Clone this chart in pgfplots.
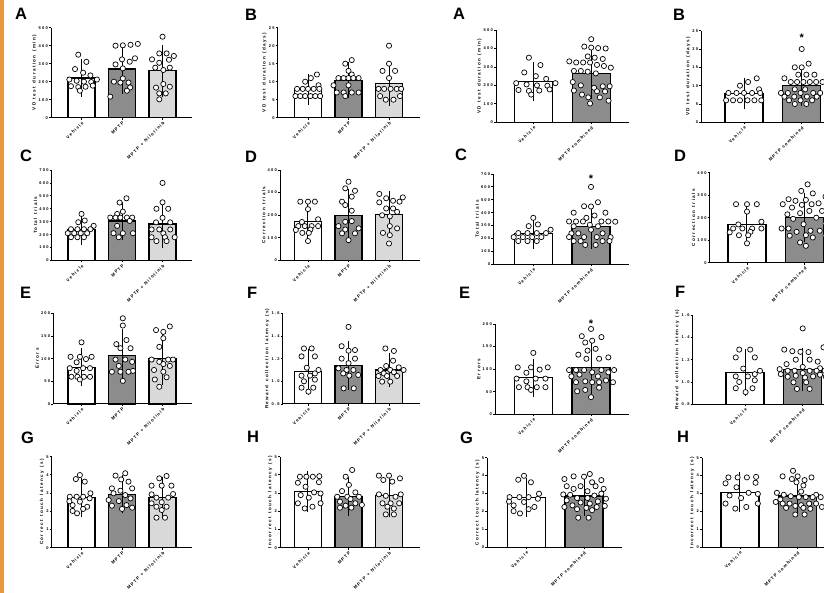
\documentclass[border=0pt]{standalone}
\usepackage{fontspec}
\setmainfont{Liberation Sans}
\newfontfamily\lsfam[LetterSpace=30, WordSpace=1.3]{Liberation Sans}
\newfontfamily\xsfam[LetterSpace=26, WordSpace=1.2]{Liberation Sans}
\usepackage{pgfplots}
\pgfplotsset{compat=1.18}
\definecolor{dg}{RGB}{140,140,140}
\definecolor{lg}{RGB}{217,217,217}
\definecolor{orng}{RGB}{233,152,62}
\newcommand{\tkf}{\lsfam\bfseries\fontsize{4}{4.8}\selectfont}
\newcommand{\lbf}{\lsfam\bfseries\fontsize{4.6}{5.4}\selectfont}
\newcommand{\xbf}{\xsfam\bfseries\fontsize{4.4}{5.2}\selectfont}
\pgfplotsset{
 gp/.style={scale only axis, anchor=south west, axis x line*=bottom, axis y line*=left,
   axis line style={line width=1pt,-}, tick align=outside, major tick length=2pt,
   tick style={line width=0.8pt, black}, xtick={0,1,2}, tick label style={font=\tkf},
   xticklabel style={font=\xbf, rotate=45, anchor=north east, inner sep=1pt},
   yticklabel style={inner sep=1pt}, ylabel style={font=\lbf, inner sep=1pt},
   clip=false, ymin=0},
 lft/.style={gp, xticklabels={Vehicle,MPTP,MPTP + Nilotinib}},
 rgt/.style={gp, xmax=1.66, xtick={0,1}, xticklabels={Vehicle,MPTP combined}},
}
\newcommand{\br}[4]{\addplot[ybar, bar width=#4, bar shift=0pt, fill=#1, draw=black, line width=1.2pt] coordinates {(#2,#3)};}
\newcommand{\eb}[1]{\addplot[forget plot, draw=none, mark=none, error bars/.cd, y dir=both, y explicit, error bar style={draw=black, solid, line width=1pt}, error mark=-, error mark options={draw=black, solid, mark size=8pt, line width=1pt}] coordinates {#1};}
\newcommand{\pts}[1]{\addplot[only marks, mark=*, mark size=2.6pt, mark options={fill=white, draw=black, line width=0.7pt}] coordinates {#1};}
\newcommand{\lbars}[3]{\br{white}{0}{#1}{27pt}\br{dg}{1}{#2}{27pt}\br{lg}{2}{#3}{27pt}}
\newcommand{\rbars}[2]{\br{white}{0}{#1}{38pt}\br{dg}{1}{#2}{38pt}}
\newcommand{\plet}[3]{\node[anchor=base west, inner sep=0pt, font=\bfseries\fontsize{16.5}{16.5}\selectfont] at (#1pt,#2pt) {#3};}
\begin{document}
\begin{tikzpicture}[x=1pt,y=1pt]
\useasboundingbox (0,0) rectangle (824,593);
\clip (0,0) rectangle (824,593);
\fill[orng] (0,0) rectangle (4,593);
% ---------------- Row 1
\begin{axis}[lft, at={(51pt,475.3pt)}, width=141.1pt, height=90pt, xmin=-0.753, xmax=2.73, ymax=500, ytick={0,100,...,500}, yticklabels={0,100,200,300,400,500}, ylabel={VD test duration (min)}]
\lbars{220}{270}{260}
\eb{(0,220) +- (0,60) (1,270) +- (0,95) (2,260) +- (0,100)}
\pts{(-0.08,350)(0.12,310)(-0.16,270)(0.04,250)(0.22,235)(-0.30,212)(-0.12,205)(0.06,200)(0.24,198)(0.38,212)(-0.26,175)(-0.08,170)(0.10,172)(0.28,178)(-0.04,150)}
\pts{(0.84,400)(1.02,402)(1.21,405)(1.39,410)(1.32,330)(1.0,324)(1.19,311)(0.84,296)(1.02,274)(1.02,218)(0.8,200)(0.96,195)(1.16,195)(1.2,168)(1.12,150)(0.71,117)}
\pts{(2,450)(1.92,357)(2.1,357)(2.28,343)(1.74,324)(2.16,322)(1.92,305)(1.82,278)(2.18,278)(2.02,265)(2.02,187)(1.84,167)(2.18,172)(2.08,135)(1.92,135)(1.92,102)}
\end{axis}
\begin{axis}[lft, at={(277.7pt,475.3pt)}, width=142.1pt, height=90pt, xmin=-0.748, xmax=2.76, ymax=25, ytick={0,5,...,25}, yticklabels={0,5,10,15,20,25}, ylabel={VD test duration (days)}]
\lbars{7.9}{10.4}{9.5}
\eb{(0,7.9) +- (0,2.1) (1,10.4) +- (0,2.8) (2,9.5) +- (0,4.1)}
\pts{(0.22,12)(0.07,11)(-0.07,10)(0.26,9)(-0.27,8)(-0.13,8)(0,8)(0.14,8)(0.28,8)(-0.31,6)(-0.19,6)(-0.07,6)(0.06,6)(0.18,6)(0.3,6)}
\pts{(1.08,16)(0.92,15)(1,13)(1.08,12)(0.75,11)(0.88,11)(1,11)(1.12,11)(1.25,11)(0.63,9)(1,9)(0.71,7)(0.88,7)(1.08,7)(1.25,7)(0.92,6)}
\pts{(2,20)(2,15)(1.84,13)(2.15,13)(2,11)(1.74,8)(1.88,8)(2.04,8)(2.19,8)(2.3,8)(1.78,6)(2.27,6)(1.92,5)(2.11,5)}
\end{axis}
\begin{axis}[rgt, at={(496pt,470.7pt)}, width=133.3pt, height=92.3pt, xmin=-0.65, ymax=500, ytick={0,100,...,500}, yticklabels={0,100,200,300,400,500}, ylabel={VD test duration (min)}]
\rbars{220}{265}
\eb{(0,220) +- (0,62) (1,265) +- (0,95)}
\pts{(-0.08,350)(0.12,310)(-0.16,270)(0.04,250)(0.22,235)(-0.30,212)(-0.12,205)(0.06,200)(0.24,198)(0.38,212)(-0.26,175)(-0.08,170)(0.10,172)(0.28,178)(-0.04,150)}
\pts{(1,450)(0.88,410)(1.0,405)(1.12,402)(1.25,400)(0.94,357)(1.06,350)(1.2,343)(0.62,330)(0.74,324)(0.86,324)(0.98,324)(1.1,311)(1.22,305)(1.34,296)(0.7,278)(0.82,278)(0.94,274)(1.08,265)(0.68,218)(0.82,200)(1.2,195)(1.32,195)(1.05,187)(0.7,172)(1.1,168)(1.24,167)(0.84,150)(0.95,135)(1.15,135)(1.3,117)(0.98,102)}
\end{axis}
\begin{axis}[rgt, at={(701.3pt,470.7pt)}, width=138.5pt, height=91.6pt, xmin=-0.74, ymax=25, ytick={0,5,...,25}, yticklabels={0,5,10,15,20,25}, ylabel={VD test duration (days)}]
\rbars{7.9}{10.0}
\eb{(0,7.9) +- (0,2.1) (1,10.0) +- (0,3.4)}
\pts{(0.22,12)(0.07,11)(-0.07,10)(0.26,9)(-0.27,8)(-0.13,8)(0,8)(0.14,8)(0.28,8)(-0.31,6)(-0.19,6)(-0.07,6)(0.06,6)(0.18,6)(0.3,6)}
\pts{(1,20)(1.12,16)(0.88,15)(1.0,15)(0.94,13)(1.08,13)(1.22,13)(0.7,12)(0.81,11)(0.92,11)(1.03,11)(1.14,11)(1.25,11)(1.36,11)(0.88,9)(1.06,9)(0.64,8)(0.76,8)(0.98,8)(1.2,8)(1.32,8)(0.7,7)(0.87,7)(1.09,7)(1.26,7)(0.78,6)(0.98,6)(1.18,6)(0.88,5)(1.08,5)}
\node[font=\bfseries\fontsize{11}{11}\selectfont] at (axis cs:1,23.2) {*};
\end{axis}
% ---------------- Row 2
\begin{axis}[lft, at={(51.7pt,332.5pt)}, width=140.4pt, height=90.5pt, xmin=-0.736, xmax=2.73, ymax=700, ytick={0,100,...,700}, yticklabels={0,100,200,300,400,500,600,700}, ylabel={Total trials}]
\lbars{237}{306}{282}
\eb{(0,237) +- (0,56) (1,306) +- (0,88) (2,282) +- (0,122)}
\pts{(0,360)(0.08,309)(-0.08,296)(0.3,268)(-0.26,242)(-0.1,242)(0.06,242)(0.22,242)(-0.34,211)(-0.18,211)(-0.02,211)(0.14,211)(-0.26,180)(-0.1,180)(0.06,180)}
\pts{(1.11,481)(0.94,448)(1.02,378)(0.88,360)(0.71,332)(0.84,332)(0.96,332)(1.12,332)(1.25,332)(1.19,306)(0.88,268)(0.79,211)(1.02,211)(1.27,211)(0.92,180)}
\pts{(2,600)(2,450)(1.85,400)(2.14,400)(2,330)(1.84,295)(2.19,295)(1.73,240)(1.92,240)(2.19,240)(2.02,210)(1.73,180)(2.06,180)(2.3,180)(1.85,150)(2.1,150)}
\end{axis}
\begin{axis}[lft, at={(280pt,332.5pt)}, width=139.8pt, height=90.5pt, xmin=-0.691, xmax=2.76, ymax=400, ytick={0,100,...,400}, yticklabels={0,100,200,300,400}, ylabel={Correction trials}]
\lbars{171}{200}{205}
\eb{(0,171) +- (0,58) (1,200) +- (0,82) (2,205) +- (0,67)}
\pts{(-0.19,260)(0,260)(0.17,260)(0,227)(0.25,182)(-0.15,170)(-0.24,152)(-0.08,152)(0.09,152)(0.25,152)(0.06,137)(-0.3,135)(-0.14,122)(0.02,122)(0,86)}
\pts{(1,348)(0.92,319)(1.16,308)(1.08,282)(0.84,260)(0.92,245)(1.08,220)(0.92,171)(1.08,174)(0.75,152)(1.25,142)(0.92,137)(0.84,120)(1.16,120)(1,90)}
\pts{(1.76,294)(2.34,279)(1.93,275)(2.1,264)(1.76,257)(2.26,260)(1.93,230)(2.1,230)(2.2,215)(1.83,200)(2.02,195)(2.02,152)(2.2,142)(1.85,122)(2.02,112)(2,75)}
\end{axis}
\begin{axis}[rgt, at={(493.3pt,328.7pt)}, width=135.8pt, height=90.3pt, xmin=-0.693, ymax=700, ytick={0,100,...,700}, yticklabels={0,100,200,300,400,500,600,700}, ylabel={Total trials}]
\rbars{237}{292}
\eb{(0,237) +- (0,57) (1,292) +- (0,108)}
\pts{(0,360)(0.08,309)(-0.08,296)(0.3,268)(-0.26,242)(-0.1,242)(0.06,242)(0.22,242)(-0.34,211)(-0.18,211)(-0.02,211)(0.14,211)(-0.26,180)(-0.1,180)(0.06,180)}
\pts{(1,600)(1.12,481)(0.88,450)(1.0,448)(0.7,400)(1.25,400)(1.06,378)(0.92,360)(0.62,332)(0.74,332)(0.86,332)(1.18,332)(1.3,332)(1.42,330)(0.98,306)(0.7,295)(1.12,295)(1.0,268)(0.66,240)(0.78,240)(1.2,240)(0.62,211)(0.88,211)(1.1,211)(1.34,210)(0.7,180)(0.82,180)(1.2,180)(1.32,180)(0.9,150)(1.08,150)}
\node[font=\bfseries\fontsize{11}{11}\selectfont] at (axis cs:1,660) {*};
\end{axis}
\begin{axis}[rgt, at={(709.7pt,330.3pt)}, width=133.1pt, height=90pt, xmin=-0.646, ymax=400, ytick={0,100,...,400}, yticklabels={0,100,200,300,400}, ylabel={Correction trials}]
\rbars{171}{201}
\eb{(0,171) +- (0,58) (1,201) +- (0,75)}
\pts{(-0.19,260)(0,260)(0.17,260)(0,227)(0.25,182)(-0.15,170)(-0.24,152)(-0.08,152)(0.09,152)(0.25,152)(0.06,137)(-0.3,135)(-0.14,122)(0.02,122)(0,86)}
\pts{(1.05,348)(0.94,319)(1.14,308)(1.36,294)(0.72,282)(1.02,279)(0.84,275)(1.24,264)(0.62,260)(1.12,260)(0.95,257)(0.78,245)(1.08,230)(1.3,230)(0.92,220)(0.7,215)(1.2,200)(0.8,195)(1.36,174)(0.98,171)(0.6,152)(0.72,152)(1.1,142)(1.26,142)(0.86,137)(1.02,122)(0.74,120)(1.36,120)(1.14,112)(0.92,90)(1.02,75)}
\end{axis}
% ---------------- Row 3
\begin{axis}[lft, at={(53.3pt,189pt)}, width=138.8pt, height=90.7pt, xmin=-0.696, xmax=2.73, ymax=200, ytick={0,50,...,200}, yticklabels={0,50,100,150,200}, ylabel={Errors}]
\lbars{81}{107}{101}
\eb{(0,81) +- (0,24) (1,107) +- (0,41) (2,101) +- (0,42)}
\pts{(0,136)(-0.27,104)(-0.04,104)(0.25,104)(0.11,99)(-0.12,92)(-0.29,79)(0.04,79)(0.21,79)(-0.12,73)(-0.25,60)(-0.1,60)(0.06,60)(0.21,60)(-0.04,54)}
\pts{(1.02,189)(1.02,173)(0.86,132)(1.11,141)(0.96,123)(1.21,123)(0.84,98)(1.08,98)(1.25,93)(0.92,84)(1.27,73)(0.75,71)(0.96,71)(1.16,71)(1.02,51)}
\pts{(2.18,171)(1.84,163)(2.02,159)(2.02,145)(1.92,126)(1.73,98)(2.14,98)(2.26,98)(1.92,93)(2.02,88)(2.18,84)(1.79,75)(2.02,71)(2.1,59)(1.81,54)(1.92,38)}
\end{axis}
\begin{axis}[lft, at={(282.7pt,189pt)}, width=137.1pt, height=90.7pt, xmin=-0.625, xmax=2.76, ymin=0.8, ymax=1.6, ytick={0.8,1.0,1.2,1.4,1.6}, yticklabels={0.8,1.0,1.2,1.4,1.6}, ylabel={Reward collection latency (s)}, clip=true]
\lbars{1.085}{1.14}{1.10}
\eb{(0,1.085) +- (0,0.133) (1,1.14) +- (0,0.145) (2,1.10) +- (0,0.08)}
\pts{(-0.1,1.29)(0.09,1.29)(-0.16,1.22)(0.17,1.22)(-0.03,1.12)(0.26,1.10)(0.17,1.07)(-0.16,1.05)(0.05,1.05)(-0.1,1.00)(0.17,1.015)(-0.16,0.944)(0.13,0.944)(0.01,0.909)}
\pts{(1,1.48)(0.83,1.31)(1.16,1.276)(1,1.27)(0.83,1.20)(1.16,1.20)(1,1.16)(0.75,1.115)(1.12,1.10)(0.95,1.10)(0.87,1.07)(1.24,1.056)(1.02,1.05)(0.88,0.938)(1.13,0.938)}
\pts{(1.91,1.29)(2.12,1.268)(2.1,1.182)(1.93,1.135)(2.24,1.123)(1.79,1.10)(2.03,1.10)(2.36,1.10)(1.87,1.07)(2.12,1.08)(1.74,1.047)(1.95,1.047)(2.2,1.047)(1.83,0.997)(2.03,0.997)}
\end{axis}
\begin{axis}[rgt, at={(495pt,178.7pt)}, width=134.1pt, height=90.3pt, xmin=-0.664, ymax=200, ytick={0,50,...,200}, yticklabels={0,50,100,150,200}, ylabel={Errors}]
\rbars{81}{103}
\eb{(0,81) +- (0,24) (1,103) +- (0,41)}
\pts{(0,136)(-0.27,104)(-0.04,104)(0.25,104)(0.11,99)(-0.12,92)(-0.29,79)(0.04,79)(0.21,79)(-0.12,73)(-0.25,60)(-0.1,60)(0.06,60)(0.21,60)(-0.04,54)}
\pts{(1,189)(0.84,173)(1.18,171)(1.02,163)(0.9,159)(1.08,145)(0.94,141)(0.78,132)(1.3,126)(0.92,123)(1.14,123)(0.62,98)(0.74,98)(0.88,98)(1.18,98)(1.4,98)(1.02,93)(1.3,93)(0.8,88)(0.66,84)(1.12,84)(1.26,75)(0.9,73)(0.74,71)(1.02,71)(1.14,71)(1.38,71)(1.14,59)(0.9,54)(0.76,51)(1,38)}
\node[font=\bfseries\fontsize{11}{11}\selectfont] at (axis cs:1,201) {*};
\end{axis}
\begin{axis}[rgt, at={(692.7pt,188.7pt)}, width=148.1pt, height=89.3pt, xmin=-0.906, ymin=0.8, ymax=1.6, ytick={0.8,1.0,1.2,1.4,1.6}, yticklabels={0.8,1.0,1.2,1.4,1.6}, ylabel={Reward collection latency (s)}, clip=true]
\rbars{1.085}{1.113}
\eb{(0,1.085) +- (0,0.135) (1,1.113) +- (0,0.123)}
\pts{(-0.1,1.29)(0.09,1.29)(-0.16,1.22)(0.17,1.22)(-0.03,1.12)(0.26,1.10)(0.17,1.07)(-0.16,1.05)(0.05,1.05)(-0.1,1.00)(0.17,1.015)(-0.16,0.944)(0.13,0.944)(0.01,0.909)}
\pts{(1,1.48)(1.36,1.31)(0.68,1.29)(0.82,1.276)(0.96,1.27)(1.1,1.268)(0.88,1.20)(1.12,1.20)(1.26,1.182)(0.72,1.16)(1,1.135)(1.3,1.123)(0.6,1.115)(0.74,1.10)(0.86,1.10)(1.12,1.10)(1.24,1.10)(1.38,1.10)(1,1.08)(0.62,1.07)(1.3,1.065)(0.88,1.056)(1.18,1.05)(0.74,1.047)(1.04,1.04)(1.4,1.047)(0.84,0.997)(1.06,0.997)(0.9,0.938)(1.12,0.938)}
\end{axis}
% ---------------- Row 4
\begin{axis}[lft, at={(51.7pt,45.3pt)}, width=140.4pt, height=91pt, xmin=-0.736, xmax=2.73, ymax=5, ytick={0,1,...,5}, yticklabels={0,1,2,3,4,5}, ylabel={Correct touch latency (s)}]
\lbars{2.78}{2.93}{2.75}
\eb{(0,2.78) +- (0,0.63) (1,2.93) +- (0,0.6) (2,2.75) +- (0,0.68)}
\pts{(-0.04,3.99)(-0.14,3.77)(0.08,3.63)(0.22,2.99)(-0.29,2.8)(-0.12,2.8)(0.04,2.8)(0.2,2.71)(-0.04,2.53)(-0.22,2.34)(0.14,2.25)(0.04,2.13)(-0.11,1.89)(-0.3,2.55)(-0.22,2.02)}
\pts{(1.08,4.09)(0.84,3.96)(0.98,3.75)(1.16,3.63)(0.75,3.26)(1.25,3.26)(0.96,3.13)(0.79,2.99)(1.08,2.89)(1.21,2.71)(0.67,2.62)(0.92,2.56)(1.11,2.34)(0.75,2.31)(1,2.13)(1.25,2.2)}
\pts{(2.1,3.94)(1.92,3.81)(1.73,3.41)(1.98,3.41)(2.22,3.41)(1.73,2.93)(2.26,2.95)(1.85,2.75)(2.14,2.75)(1.73,2.44)(1.98,2.5)(1.85,2.25)(2.1,2.25)(1.98,2.07)(1.85,1.65)(2.06,1.65)}
\end{axis}
\begin{axis}[lft, at={(280pt,45.3pt)}, width=139.8pt, height=91pt, xmin=-0.691, xmax=2.76, ymax=5, ytick={0,1,...,5}, yticklabels={0,1,2,3,4,5}, ylabel={Incorrect touch latency (s)}]
\lbars{3.08}{2.8}{2.86}
\eb{(0,3.08) +- (0,0.67) (1,2.8) +- (0,0.62) (2,2.86) +- (0,0.75)}
\pts{(-0.2,3.9)(-0.04,3.9)(0.12,3.9)(0.28,3.93)(0.27,3.6)(-0.25,3.57)(-0.06,3.35)(0.15,3.04)(0.31,2.98)(-0.18,2.89)(0.02,2.75)(-0.25,2.44)(0.31,2.44)(0.11,2.25)(-0.08,2.16)}
\pts{(1.09,4.27)(0.93,3.9)(1.01,3.45)(0.84,3.11)(1.17,3.04)(0.72,2.8)(0.97,2.8)(1.26,2.8)(1.05,2.67)(0.79,2.53)(1.17,2.44)(0.93,2.31)(0.79,2.2)(1.07,2.2)(1.33,2.35)}
\pts{(1.75,3.96)(2,3.96)(2.27,3.81)(1.86,3.72)(2.08,3.63)(1.75,2.93)(2.29,2.93)(1.92,2.85)(2.16,2.8)(1.84,2.44)(2.04,2.44)(2.25,2.44)(1.96,2.25)(2.12,2.15)(1.92,1.83)(2.12,1.83)}
\end{axis}
\begin{axis}[rgt, at={(487.3pt,45.7pt)}, width=134.8pt, height=89.6pt, xmin=-0.676, ymax=5, ytick={0,1,...,5}, yticklabels={0,1,2,3,4,5}, ylabel={Correct touch latency (s)}]
\rbars{2.78}{2.86}
\eb{(0,2.78) +- (0,0.63) (1,2.86) +- (0,0.65)}
\pts{(-0.04,3.99)(-0.14,3.77)(0.08,3.63)(0.22,2.99)(-0.29,2.8)(-0.12,2.8)(0.04,2.8)(0.2,2.71)(-0.04,2.53)(-0.22,2.34)(0.14,2.25)(0.04,2.13)(-0.11,1.89)(-0.3,2.55)(-0.22,2.02)}
\pts{(1.1,4.09)(0.82,3.96)(1.0,3.94)(0.66,3.81)(1.3,3.75)(1.14,3.63)(0.7,3.41)(0.94,3.41)(1.2,3.41)(0.82,3.26)(1.34,3.26)(1.06,3.13)(1.3,2.99)(0.64,2.95)(0.76,2.93)(1.18,2.89)(0.88,2.75)(1.06,2.75)(1.38,2.71)(0.7,2.62)(1.24,2.56)(0.94,2.5)(1.1,2.44)(0.8,2.34)(1.36,2.31)(0.66,2.25)(1.22,2.25)(1.04,2.2)(0.88,2.13)(1.14,2.07)(0.9,1.65)(1.08,1.65)}
\end{axis}
\begin{axis}[rgt, at={(702pt,45.7pt)}, width=133.7pt, height=89.6pt, xmin=-0.658, ymax=5, ytick={0,1,...,5}, yticklabels={0,1,2,3,4,5}, ylabel={Incorrect touch latency (s)}]
\rbars{3.08}{2.86}
\eb{(0,3.08) +- (0,0.67) (1,2.86) +- (0,0.65)}
\pts{(-0.2,3.9)(-0.04,3.9)(0.12,3.9)(0.28,3.93)(0.27,3.6)(-0.25,3.57)(-0.06,3.35)(0.15,3.04)(0.31,2.98)(-0.18,2.89)(0.02,2.75)(-0.25,2.44)(0.31,2.44)(0.11,2.25)(-0.08,2.16)}
\pts{(0.92,4.27)(0.74,3.96)(1.0,3.96)(1.24,3.9)(0.9,3.81)(1.12,3.75)(0.98,3.63)(1.1,3.45)(1.06,3.11)(0.64,3.04)(0.76,2.93)(1.32,2.93)(0.88,2.85)(1.02,2.8)(1.14,2.8)(1.26,2.8)(1.4,2.8)(0.7,2.67)(0.62,2.53)(0.74,2.44)(0.86,2.44)(1.2,2.44)(1.32,2.44)(1.06,2.35)(0.96,2.31)(1.42,2.25)(0.8,2.2)(1.1,2.2)(1.22,2.15)(0.96,1.83)(1.12,1.83)}
\end{axis}
% ---------------- Panel letters
\plet{15}{573}{A}\plet{245}{572.3}{B}\plet{453}{573}{A}\plet{673}{572.3}{B}
\plet{20}{431.3}{C}\plet{245}{430.3}{D}\plet{455}{432.3}{C}\plet{674}{431.3}{D}
\plet{20}{294.7}{E}\plet{247}{294.7}{F}\plet{459}{294}{E}\plet{675}{295}{F}
\plet{21}{149}{G}\plet{247}{150}{H}\plet{460}{149}{G}\plet{677}{150}{H}
\end{tikzpicture}
\end{document}
